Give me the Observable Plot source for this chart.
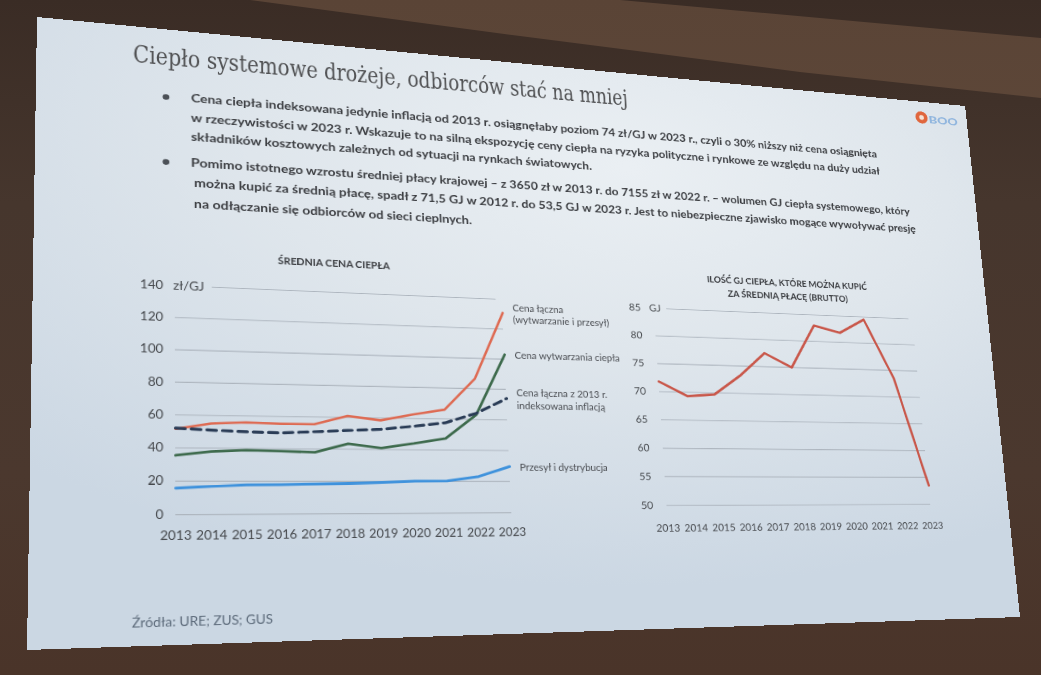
<!DOCTYPE html>
<html lang="pl">
<head>
<meta charset="utf-8">
<script src="https://cdn.jsdelivr.net/npm/d3@7"></script>
<script src="https://cdn.jsdelivr.net/npm/@observablehq/plot@0.6"></script>
<style>
html,body{margin:0;padding:0;}
body{width:1041px;height:675px;overflow:hidden;position:relative;background:linear-gradient(180deg,#3a2c25 0%,#46362d 30%,#4b382e 70%,#4a3429 100%);}
#beam{position:absolute;left:0;top:0;width:1041px;height:675px;background:linear-gradient(180deg,#5a4436,#6a5242);clip-path:polygon(250px 0,620px 0,1041px 38px,1041px 98px,800px 72px,520px 36px);}
#slide{position:absolute;left:0;top:0;width:1080px;height:675px;transform-origin:0 0;overflow:hidden;
 background:radial-gradient(ellipse 85% 75% at 58% 18%,#eaeff3 0%,#dfe6ec 45%,#cbd7e3 100%);}
#slide > *{position:absolute;}
</style>
</head>
<body>
<div id="beam"></div>
<div id="slide"></div>
<script>
// ---------- data ----------
const years = [2013,2014,2015,2016,2017,2018,2019,2020,2021,2022,2023];
const cenaLaczna      = [51.5,55,56,55.5,55.5,61,58.5,62.5,66,86.5,131];
const cenaWytwarzania = [35.5,38,39,38.5,38,43.5,41,44,47.5,63,103];
const cenaIndeksowana = [52,51,50.3,49.8,50.8,51.8,52.8,55,57.5,64,74];
const przesylDystrybucja = [15.8,17,17.8,18,18.3,18.8,19.4,20.2,20.3,23.2,29.7];
const iloscGJ = [71.8,69.3,69.7,73.2,77.5,75,83,81.8,84.5,73.5,53.5];
const leftTicks = [0,20,40,60,80,100,120,140];
const rightTicks = [50,55,60,65,70,75,80,85];
const seriesNames = ["Cena łączna\n(wytwarzanie i przesył)","Cena wytwarzania ciepła","Cena łączna z 2013 r.\nindeksowana inflacją","Przesył i dystrybucja"];
const seriesKeys = ["laczna","wytwarzanie","indeksowana","przesyl"];
const seriesValues = [cenaLaczna,cenaWytwarzania,cenaIndeksowana,przesylDystrybucja];

const titleText = "Ciepło systemowe drożeje, odbiorców stać na mniej";
const bulletRows = [
 "Cena ciepła indeksowana jedynie inflacją od 2013 r. osiągnęłaby poziom 74 zł/GJ w 2023 r., czyli o 30% niższy niż cena osiągnięta",
 "w rzeczywistości w 2023 r. Wskazuje to na silną ekspozycję ceny ciepła na ryzyka polityczne i rynkowe ze względu na duży udział",
 "składników kosztowych zależnych od sytuacji na rynkach światowych.",
 "Pomimo istotnego wzrostu średniej płacy krajowej – z 3650 zł w 2013 r. do 7155 zł w 2022 r. – wolumen GJ ciepła systemowego, który",
 "można kupić za średnią płacę, spadł z 71,5 GJ w 2012 r. do 53,5 GJ w 2023 r. Jest to niebezpieczne zjawisko mogące wywoływać presję",
 "na odłączanie się odbiorców od sieci cieplnych."
];
const leftTitle = "ŚREDNIA CENA CIEPŁA";
const rightTitle = ["ILOŚĆ GJ CIEPŁA, KTÓRE MOŻNA KUPIĆ","ZA ŚREDNIĄ PŁACĘ (BRUTTO)"];
const sourceText = "Źródła: URE; ZUS; GUS";

// ---------- perspective (flat slide -> photo) ----------
const W = 1080, H = 675;
const flatCorners = [[0,0],[W,0],[W,H],[0,H]];
const photoCorners = [[37,17],[965,106],[1020,617],[27,650]];
function solveH(src,dst){
  const A=[],B=[];
  for(let i=0;i<4;i++){const [x,y]=src[i],[X,Y]=dst[i];
    A.push([x,y,1,0,0,0,-x*X,-y*X]);B.push(X);
    A.push([0,0,0,x,y,1,-x*Y,-y*Y]);B.push(Y);}
  const n=8;
  for(let i=0;i<n;i++){let p=i;for(let r=i+1;r<n;r++)if(Math.abs(A[r][i])>Math.abs(A[p][i]))p=r;
    [A[i],A[p]]=[A[p],A[i]];[B[i],B[p]]=[B[p],B[i]];
    for(let r=i+1;r<n;r++){const f=A[r][i]/A[i][i];for(let c=i;c<n;c++)A[r][c]-=f*A[i][c];B[r]-=f*B[i];}}
  const h=new Array(n);
  for(let i=n-1;i>=0;i--){let s=B[i];for(let c=i+1;c<n;c++)s-=A[i][c]*h[c];h[i]=s/A[i][i];}
  return h;
}
function applyH(h,[x,y]){const w=h[6]*x+h[7]*y+1;return [(h[0]*x+h[1]*y+h[2])/w,(h[3]*x+h[4]*y+h[5])/w];}
const Hf = solveH(flatCorners,photoCorners);
const Hi = solveH(photoCorners,flatCorners);
const F = (px,py)=>applyH(Hi,[px,py]);
function flatXOnRow(fy,px){let lo=-300,hi=W+300;for(let k=0;k<60;k++){const m=(lo+hi)/2;if(applyH(Hf,[m,fy])[0]<px)lo=m;else hi=m;}return (lo+hi)/2;}

const slide = document.getElementById("slide");
slide.style.transform = `matrix3d(${Hf[0]},${Hf[3]},0,${Hf[6]},${Hf[1]},${Hf[4]},0,${Hf[7]},0,0,1,0,${Hf[2]},${Hf[5]},0,1)`;

// ---------- slide texts ----------
const svg = d3.select(slide).append("svg").attr("width",W).attr("height",H).style("left","0px").style("top","0px");
function addText(t,px,py,ex,size,opts={}){
  const [fx,fy]=F(px,py);
  const L=flatXOnRow(fy,ex)-fx;
  svg.append("text").attr("x",fx).attr("y",fy).text(t)
    .attr("font-family",opts.family||"Lato").attr("font-size",size)
    .attr("font-weight",opts.weight||400).attr("fill",opts.fill||"#3b3d40")
    .attr("textLength",L).attr("lengthAdjust","spacingAndGlyphs");
}
addText(titleText,133,62,628,27,{family:"DejaVu Serif",fill:"#505153"});
const rowStarts=[[191,102,877],[191,122,880],[191,141,592],[191,167,910],[194,187,916],[194,208,472]];
bulletRows.forEach((r,i)=>addText(r,rowStarts[i][0],rowStarts[i][1],rowStarts[i][2],13.5,{weight:700,fill:"#3c3e42"}));
[[166,97],[166,162]].forEach(([x,y])=>{const [fx,fy]=F(x,y);svg.append("circle").attr("cx",fx).attr("cy",fy).attr("r",3.3).attr("fill","#4b5057");});
addText(leftTitle,278,264,390,11.5,{weight:700,fill:"#3a3c40"});
addText(rightTitle[0],707,282,867,10.5,{weight:700,fill:"#3a3c40"});
addText(rightTitle[1],728,297,848,10.5,{weight:700,fill:"#3a3c40"});
addText(sourceText,132,628,273,14,{fill:"#5c6a7a"});
// logo
{const [cx,cy]=F(921.5,117.5);svg.append("circle").attr("cx",cx).attr("cy",cy).attr("r",8.5).attr("fill","#e0663d");
 svg.append("circle").attr("cx",cx).attr("cy",cy).attr("r",3.2).attr("fill","#f6e3d6");}
addText("BOO",929,123,958,13,{weight:900,fill:"#8fb5de"});

// ---------- left chart ----------
const P00=F(175,514.5), P01=F(175,285.4), P10=F(511,512.5);
const L={x0:P00[0],x1:P10[0],y0:P00[1],y1:P01[1]};
const lm={l:50,r:160,t:20,b:40};
const lpy=(L.x1-L.x0)/10;
const long=seriesKeys.flatMap((k,s)=>years.map((yr,i)=>({series:k,year:yr,value:seriesValues[s][i]})));
const ofS=k=>long.filter(d=>d.series===k);
const labels=seriesNames.map((n,s)=>({name:n,year:years[years.length-1],value:seriesValues[s][seriesValues[s].length-1]}));
const leftPlot=Plot.plot({
  width:(L.x1-L.x0)+lm.l+lm.r,height:(L.y0-L.y1)+lm.t+lm.b,
  marginLeft:lm.l,marginRight:lm.r,marginTop:lm.t,marginBottom:lm.b,
  x:{domain:[2013,2023],ticks:years,tickFormat:d=>String(d),tickSize:0,tickPadding:17.5,label:null},
  y:{domain:[0,140],ticks:leftTicks,tickSize:0,tickPadding:11.5,label:null},
  style:{fontFamily:"Lato",fontSize:"12.8px",color:"#45484c",background:"transparent",overflow:"visible"},
  marks:[
    Plot.ruleY(leftTicks,{y:d=>d,x1:d=>d===140?2013+36/lpy:2013,x2:d=>d===140?2022.8:2023,stroke:"#aeb6bf",strokeWidth:1.1}),
    Plot.text(["zł/GJ"],{x:2013,y:140,text:d=>d,textAnchor:"start",dx:-2,fontSize:12.8,fill:"#45484c"}),
    Plot.line(ofS("przesyl"),{x:"year",y:"value",stroke:"#3f92dc",strokeWidth:3}),
    Plot.line(ofS("wytwarzanie"),{x:"year",y:"value",stroke:"#3d6a4c",strokeWidth:2.8}),
    Plot.line(ofS("laczna"),{x:"year",y:"value",stroke:"#de6a52",strokeWidth:2.6}),
    Plot.line(ofS("indeksowana"),{x:"year",y:"value",stroke:"#2a3c56",strokeWidth:3.2,strokeDasharray:"9,6"}),
    Plot.text(labels,{x:"year",y:"value",text:"name",textAnchor:"start",dx:11,fontSize:11,lineHeight:1.3,fill:"#4a4d52"})
  ]
});
leftPlot.style.position="absolute";leftPlot.style.left=(L.x0-lm.l)+"px";leftPlot.style.top=(L.y1-lm.t)+"px";
slide.appendChild(leftPlot);

// ---------- right chart ----------
const Q00=F(666.2,505), Q01=F(653.6,307.8), Q10=F(930,503.9);
const R={x0:Q00[0],x1:Q10[0],y0:Q00[1],y1:Q01[1]};
const rm={l:40,r:20,t:20,b:40};
const rpy=(R.x1-R.x0)/10;
const rightPlot=Plot.plot({
  width:(R.x1-R.x0)+rm.l+rm.r,height:(R.y0-R.y1)+rm.t+rm.b,
  marginLeft:rm.l,marginRight:rm.r,marginTop:rm.t,marginBottom:rm.b,
  x:{domain:[2013,2023],ticks:years,tickFormat:d=>String(d),tickSize:0,tickPadding:22,label:null},
  y:{domain:[50,85],ticks:rightTicks,tickSize:0,tickPadding:16,label:null},
  style:{fontFamily:"Lato",fontSize:"12px",color:"#45484c",background:"transparent",overflow:"visible"},
  marks:[
    Plot.ruleY(rightTicks,{y:d=>d,x1:d=>d===85?2013+15/rpy:2013,x2:d=>d===85?2022.85:2023,stroke:"#aeb6bf",strokeWidth:1.1}),
    Plot.text(["GJ"],{x:2013,y:85,text:d=>d,textAnchor:"start",dx:-6,fontSize:12,fill:"#45484c"}),
    Plot.line(years.map((yr,i)=>({year:yr,value:iloscGJ[i]})),{x:"year",y:"value",stroke:"#c9584b",strokeWidth:3})
  ]
});
rightPlot.style.position="absolute";rightPlot.style.left=(R.x0-rm.l)+"px";rightPlot.style.top=(R.y1-rm.t)+"px";
slide.appendChild(rightPlot);
</script>
</body>
</html>
